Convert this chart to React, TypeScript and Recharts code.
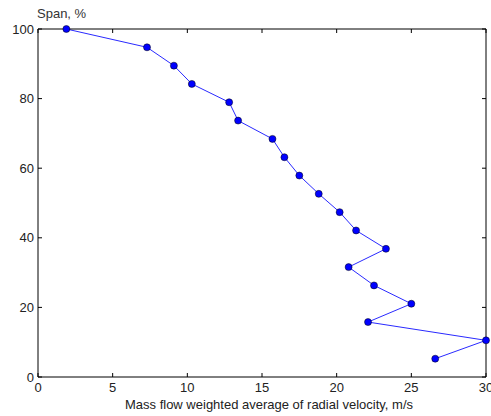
import { LineChart, Line, XAxis, YAxis, Label } from "recharts"

// radial velocity (m/s) and span (%)
const velocity = [1.9, 7.3, 9.1, 10.3, 12.8, 13.4, 15.7, 16.5, 17.5, 18.8, 20.2, 21.3, 23.3, 20.8, 22.5, 25.0, 22.1, 30.0, 26.6]
const span = [100, 94.74, 89.47, 84.21, 78.95, 73.68, 68.42, 63.16, 57.89, 52.63, 47.37, 42.11, 36.84, 31.58, 26.32, 21.05, 15.79, 10.53, 5.26]

const xTicks = [0, 5, 10, 15, 20, 25, 30]
const yTicks = [0, 20, 40, 60, 80, 100]

const data = velocity.map((v, i) => ({ x: v, y: span[i] }))

const FONT = "'Liberation Sans', Arial, sans-serif"
const TICK_LEN = 4
const TEXT = "#222"

function BottomTick(props: any) {
  const { x, y, payload } = props
  return (
    <g>
      <line x1={x} y1={y} x2={x} y2={y - TICK_LEN} stroke="#000" />
      <text x={x} y={y + 15} textAnchor="middle" fontSize={13} fontFamily={FONT} fill={TEXT}>
        {payload.value}
      </text>
    </g>
  )
}

function TopTick(props: any) {
  const { x, y } = props
  return <line x1={x} y1={y} x2={x} y2={y + TICK_LEN} stroke="#000" />
}

function LeftTick(props: any) {
  const { x, y, payload } = props
  return (
    <g>
      <line x1={x} y1={y} x2={x + TICK_LEN} y2={y} stroke="#000" />
      <text x={x - 4} y={y + 4.5} textAnchor="end" fontSize={13} fontFamily={FONT} fill={TEXT}>
        {payload.value}
      </text>
    </g>
  )
}

function RightTick(props: any) {
  const { x, y } = props
  return <line x1={x} y1={y} x2={x - TICK_LEN} y2={y} stroke="#000" />
}

export default function App() {
  return (
    <div style={{ position: "absolute", left: 0, top: 0, width: 491, height: 416, background: "#fff" }}>
      <div
        style={{
          position: "absolute",
          left: 37,
          top: 6,
          fontFamily: FONT,
          fontSize: 13,
          color: "#333",
          lineHeight: "15px",
        }}
      >
        Span, %
      </div>
      <LineChart width={491} height={416} data={data} margin={{ top: 28, right: 4, bottom: 0, left: 0 }}>
        <XAxis
          dataKey="x"
          type="number"
          domain={[0, 30]}
          ticks={xTicks}
          tickSize={0}
          tickMargin={0}
          tickLine={false}
          axisLine={{ stroke: "#000" }}
          tick={<BottomTick />}
          height={39}
          interval={0}
        >
          <Label
            value="Mass flow weighted average of radial velocity, m/s"
            position="insideBottom"
            offset={7}
            dx={7}
            style={{ fontFamily: FONT, fontSize: 13, fill: TEXT }}
          />
        </XAxis>
        <XAxis
          xAxisId="top"
          orientation="top"
          dataKey="x"
          type="number"
          domain={[0, 30]}
          ticks={xTicks}
          tickSize={0}
          tickMargin={0}
          tickLine={false}
          axisLine={{ stroke: "#000" }}
          tick={<TopTick />}
          height={1}
          interval={0}
        />
        <YAxis
          dataKey="y"
          type="number"
          domain={[0, 100]}
          ticks={yTicks}
          tickSize={0}
          tickMargin={0}
          tickLine={false}
          axisLine={{ stroke: "#000" }}
          tick={<LeftTick />}
          width={38}
          interval={0}
        />
        <YAxis
          yAxisId="right"
          orientation="right"
          dataKey="y"
          type="number"
          domain={[0, 100]}
          ticks={yTicks}
          tickSize={0}
          tickMargin={0}
          tickLine={false}
          axisLine={{ stroke: "#000" }}
          tick={<RightTick />}
          width={1}
          interval={0}
        />
        <Line
          dataKey="y"
          type="linear"
          stroke="#2a2aff"
          strokeWidth={1}
          dot={{ r: 3.5, fill: "#0000ff", stroke: "#000", strokeWidth: 0.5 }}
          isAnimationActive={false}
        />
      </LineChart>
    </div>
  )
}
